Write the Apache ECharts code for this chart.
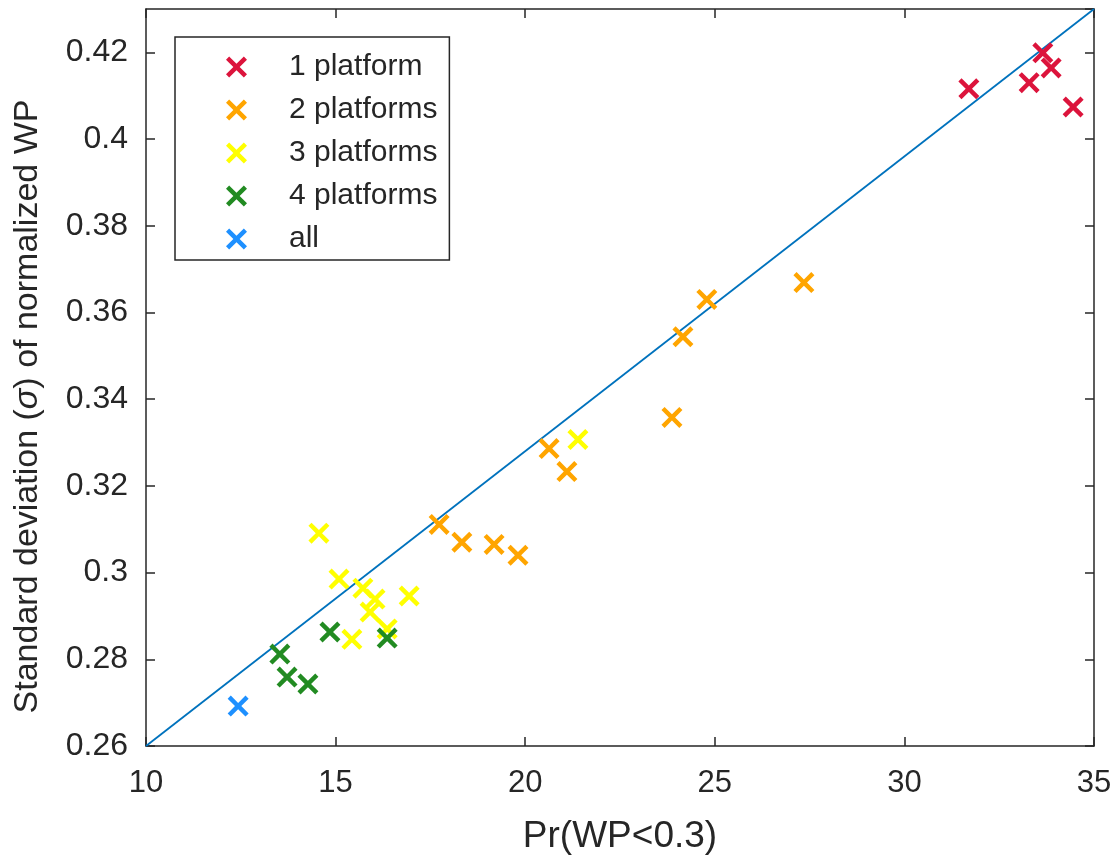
<!DOCTYPE html>
<html>
<head>
<meta charset="utf-8">
<script src="https://cdn.jsdelivr.net/npm/echarts@6/dist/echarts.min.js"></script>
<style>html,body{margin:0;padding:0;background:#fff}#c{width:1118px;height:860px}</style>
</head>
<body>
<div id="c"></div>
<script>
const xTicks = [10, 15, 20, 25, 30, 35];
const yTicks = [0.26, 0.28, 0.3, 0.32, 0.34, 0.36, 0.38, 0.4, 0.42];
const seriesNames = ['1 platform', '2 platforms', '3 platforms', '4 platforms', 'all'];
const onePlatform = [[31.70, 0.4116], [33.65, 0.4199], [33.29, 0.4130], [33.87, 0.4164], [34.45, 0.4074]];
const twoPlatforms = [[27.35, 0.3669], [24.79, 0.3630], [24.16, 0.3544], [23.87, 0.3358], [20.63, 0.3286], [21.10, 0.3233], [17.73, 0.3111], [18.33, 0.3070], [19.18, 0.3065], [19.81, 0.3040]];
const threePlatforms = [[21.39, 0.3307], [14.56, 0.3091], [15.09, 0.2985], [15.72, 0.2964], [16.04, 0.2939], [16.94, 0.2946], [15.91, 0.2909], [16.36, 0.2870], [15.43, 0.2846]];
const fourPlatforms = [[13.53, 0.2812], [13.72, 0.2759], [14.27, 0.2743], [14.85, 0.2863], [16.36, 0.2849]];
const allPlatforms = [[12.43, 0.2692]];
const diagonal = [[10, 0.26], [35, 0.43]];

const colors = ['#DC143C', '#FFA500', '#FFFF00', '#228B22', '#1E90FF'];
const groups = [onePlatform, twoPlatforms, threePlatforms, fourPlatforms, allPlatforms];
const X = 'path://M3,0 L10,7 L17,0 L20,3 L13,10 L20,17 L17,20 L10,13 L3,20 L0,17 L7,10 L0,3 Z';
const FONT = 'Liberation Sans';
const AX = '#262626';

const chart = echarts.init(document.getElementById('c'));
const scatter = groups.map((d, i) => ({
  name: seriesNames[i], type: 'scatter', data: d, symbol: X, symbolSize: 21,
  itemStyle: { color: colors[i], opacity: 1 }, z: 3
}));
const axCommon = {
  axisLine: { show: true, lineStyle: { color: AX, width: 1.5 } },
  axisTick: { show: true, inside: true, length: 9, lineStyle: { color: AX, width: 1.5 } },
  splitLine: { show: false }
};
chart.setOption({
  animation: false,
  backgroundColor: '#fff',
  grid: { left: 146, right: 24, top: 9, bottom: 113, containLabel: false },
  xAxis: [
    Object.assign({ type: 'value', min: xTicks[0], max: xTicks[xTicks.length - 1], interval: 5, position: 'bottom',
      name: 'Pr(WP<0.3)', nameLocation: 'middle', nameGap: 72,
      nameTextStyle: { fontFamily: FONT, fontSize: 37, color: AX },
      axisLabel: { fontFamily: FONT, fontSize: 31, color: AX, margin: 22 } }, axCommon),
    Object.assign({ type: 'value', min: xTicks[0], max: xTicks[xTicks.length - 1], interval: 5, position: 'top',
      axisLabel: { show: false } }, axCommon)
  ],
  yAxis: [
    Object.assign({ type: 'value', min: yTicks[0], max: 0.43, interval: 0.02, position: 'left',
      name: '{a|Standard deviation (}{i|σ}{a|) of normalized WP}', nameLocation: 'middle', nameGap: 101,
      nameTextStyle: { fontFamily: FONT, fontSize: 34, color: AX, padding: [0, 58, 0, 0],
        rich: {
          a: { fontFamily: FONT, fontSize: 34, color: AX },
          i: { fontFamily: FONT, fontSize: 34, color: AX, fontStyle: 'italic' }
        } },
      axisLabel: { fontFamily: FONT, fontSize: 32, color: AX, margin: 18, showMaxLabel: false } }, axCommon),
    Object.assign({ type: 'value', min: yTicks[0], max: 0.43, interval: 0.02, position: 'right',
      axisLabel: { show: false } }, axCommon)
  ],
  legend: {
    data: seriesNames, orient: 'vertical', left: 175, top: 37,
    padding: [15, 12, 6, 51], itemGap: 13, itemWidth: 21, itemHeight: 21,
    borderColor: AX, borderWidth: 1.5, backgroundColor: '#fff',
    textStyle: { fontFamily: FONT, fontSize: 30, color: AX, lineHeight: 30, padding: [0, 0, 0, 37] }
  },
  series: [{
    type: 'line', data: diagonal, symbol: 'none', silent: true,
    lineStyle: { color: '#0072BD', width: 1.8 }, z: 2
  }].concat(scatter)
});
</script>
</body>
</html>
